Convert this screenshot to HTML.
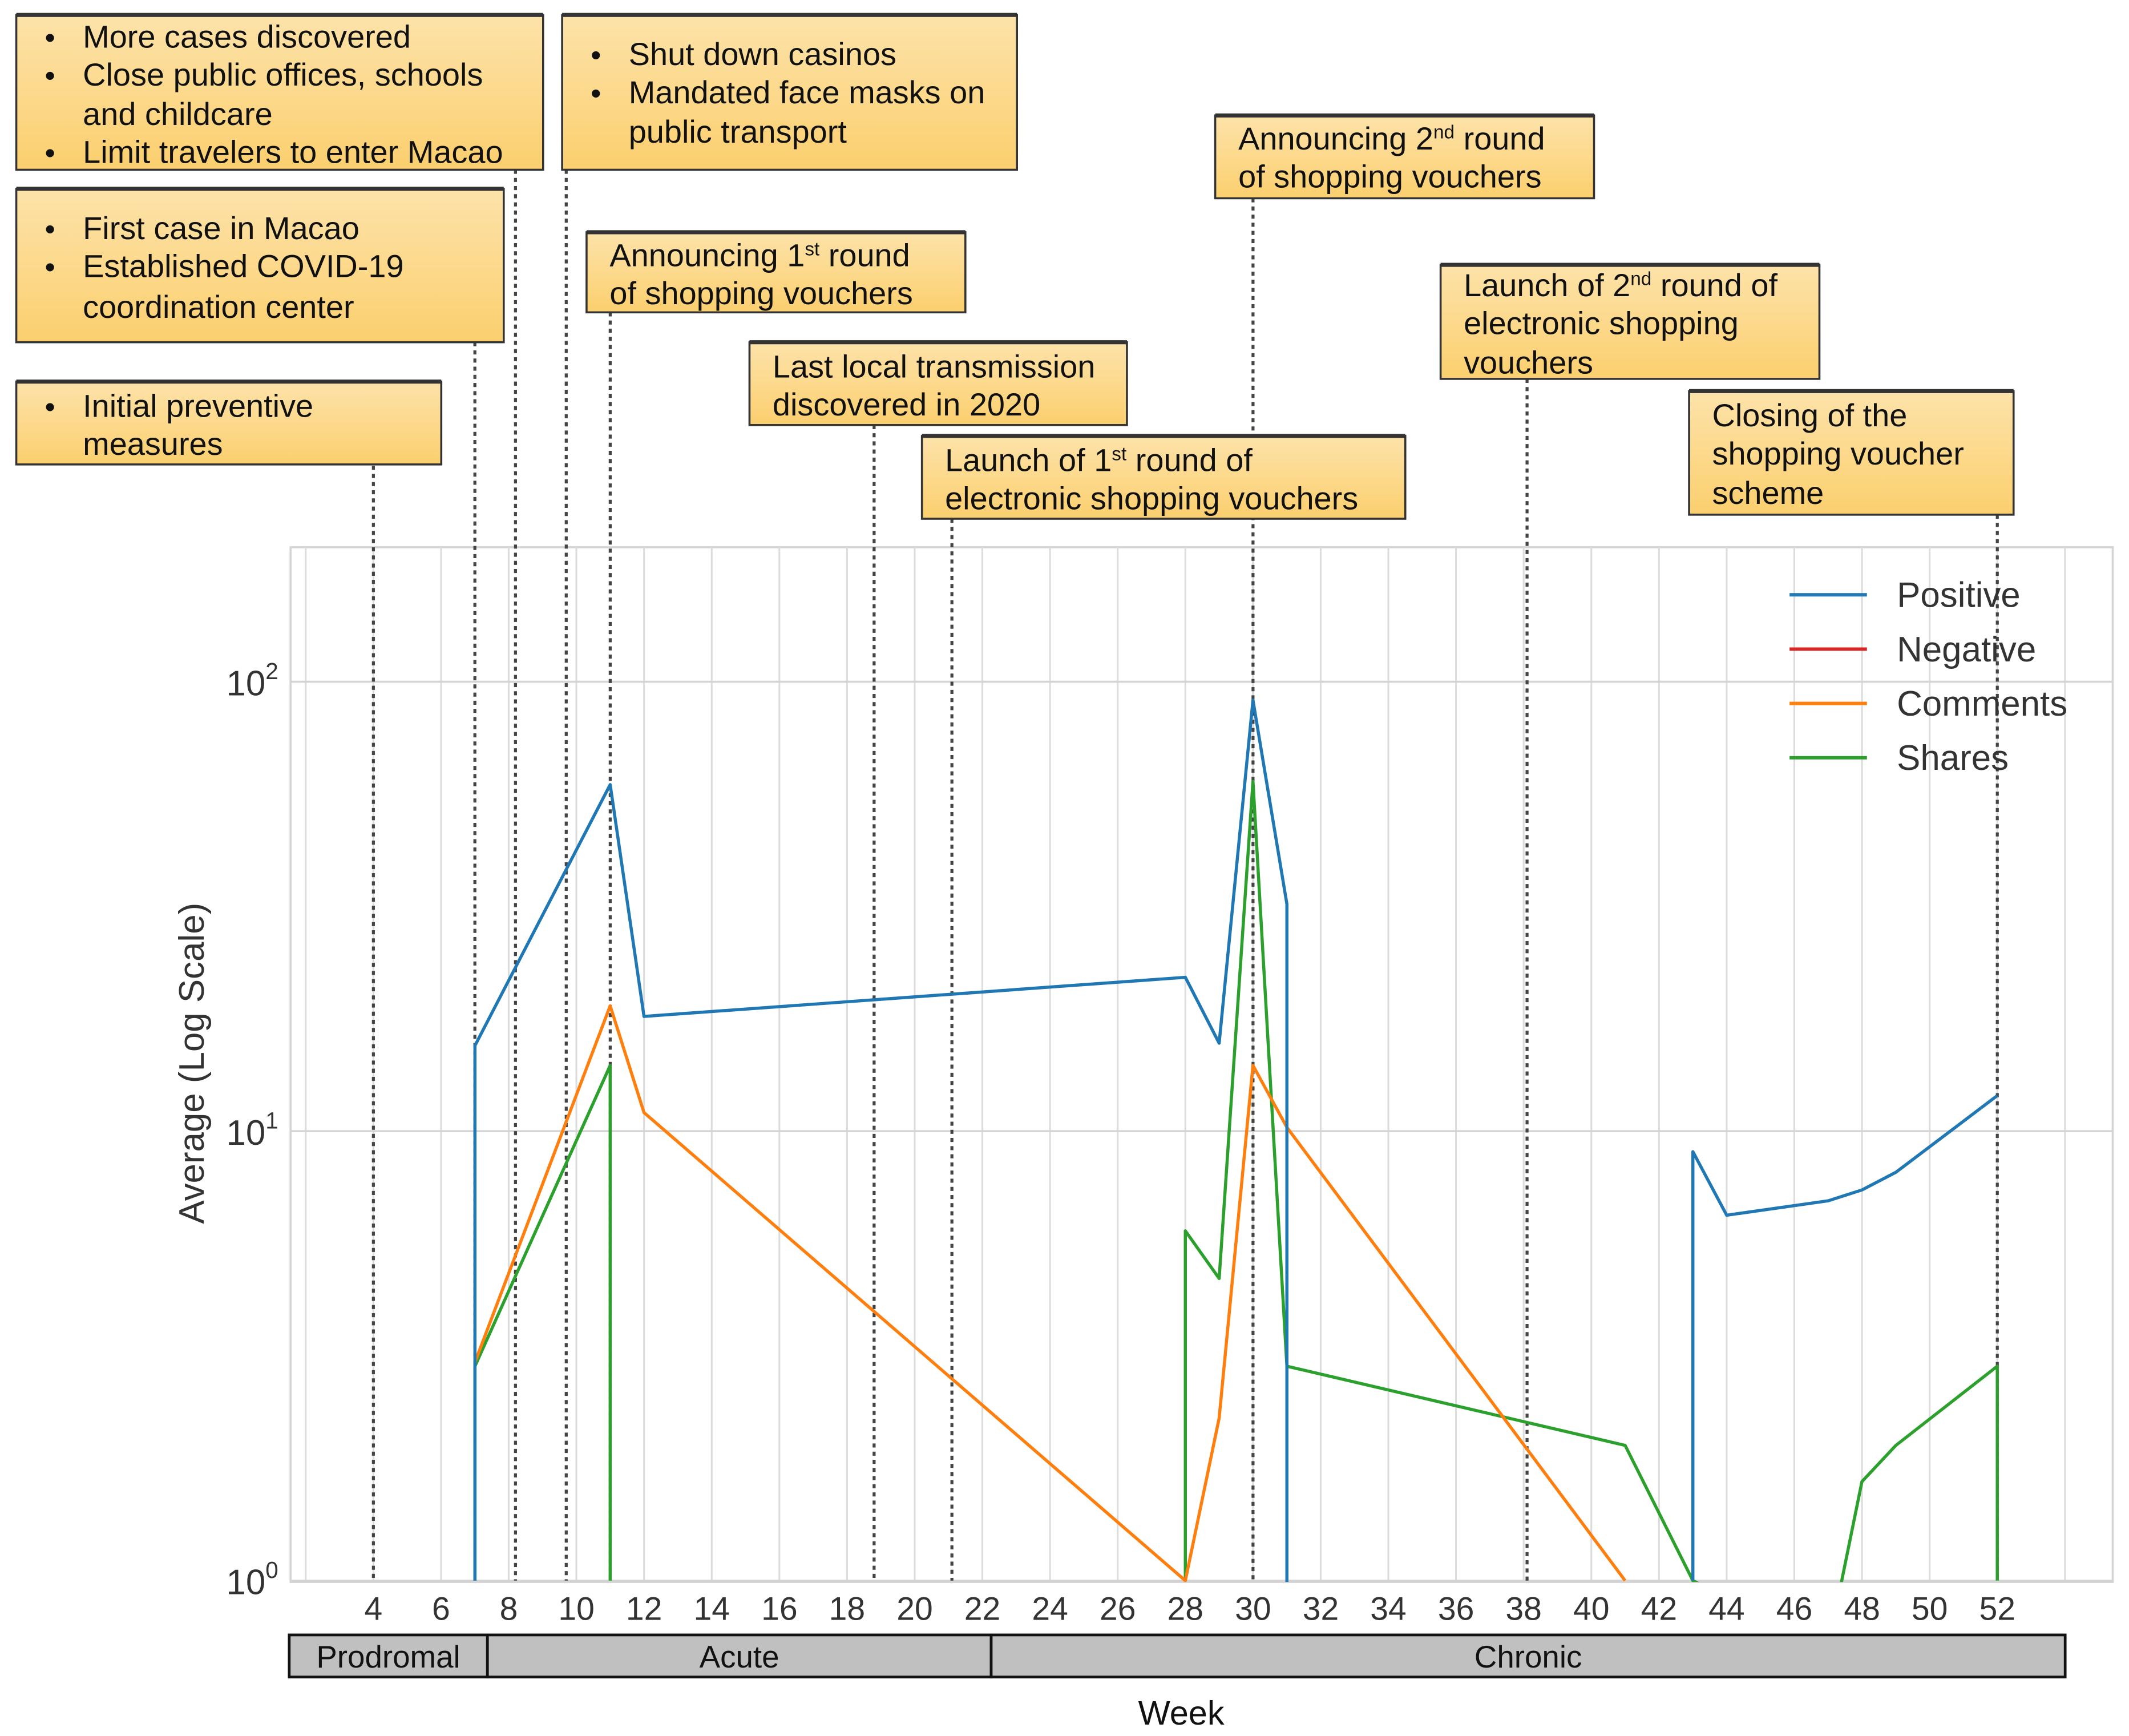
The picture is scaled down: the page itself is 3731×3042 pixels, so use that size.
<!DOCTYPE html>
<html><head><meta charset="utf-8"><style>
html,body{margin:0;padding:0;background:#fff}
svg{display:block}
text{font-family:"Liberation Sans",Arial,sans-serif}
</style></head><body>
<svg id="chart" width="3731" height="3042" viewBox="0 0 1568 1278.4" xmlns="http://www.w3.org/2000/svg">
<defs>
<linearGradient id="boxg" x1="0" y1="0" x2="0" y2="1"><stop offset="0" stop-color="#fde3aa"/><stop offset="1" stop-color="#fbcf6e"/></linearGradient>
<clipPath id="plotclip"><rect x="214" y="403" width="1342" height="762"/></clipPath>
</defs>
<g id="grid"></g>
<g id="vlines"></g>
<g id="series" clip-path="url(#plotclip)"></g>
<g id="axes"></g>
<g id="boxes"></g>
<g id="legend"></g>
</svg>
<script>
const weeksTicks = [4,6,8,10,12,14,16,18,20,22,24,26,28,30,32,34,36,38,40,42,44,46,48,50,52];
const yTickExps = [0,1,2];
const eventWeeks = [4,7,8.2,9.7,11,18.8,21.1,30,38.1,52];
const eventTops = [343,252,125,125,230,313,382,146,279,379];
const posWeeks = [7,7,11,12,28,29,30,31,31,null,43,43,44,47,48,49,52];
const posVals  = [1,15.5,59,18,22,15.7,91,32,0.3,null,1,9,6.5,7,7.4,8.1,12];
const comWeeks = [7,11,12,28,29,30,31,41];
const comVals  = [3.06,19,11,1,2.3,14,10.2,1];
const shrWeeks = [7,7,11,11,null,28,28,29,30,31,41,43,47,48,49,52,52];
const shrVals  = [1,3.0,14,1,null,1,6.0,4.7,60,3.0,2.0,1,0.71,1.66,2.0,3.0,1];
const negWeeks = [];
const negVals = [];
const legendNames = ["Positive","Negative","Comments","Shares"];
const legendColors = ["#1f77b4","#d62728","#ff7f0e","#2ca02c"];

const NS="http://www.w3.org/2000/svg";
function X(w){return 275+(w-4)*24.917;}
function Y(v){return 1164-Math.log10(v)*331;}
function mk(tag,attrs,parent){const e=document.createElementNS(NS,tag);for(const k in attrs)e.setAttribute(k,attrs[k]);parent.appendChild(e);return e;}
const grid=document.getElementById('grid');
mk('rect',{x:214,y:403,width:1342,height:762,fill:'#fff',stroke:'#d4d4d4','stroke-width':1.5},grid);
for(let w=2;w<=54;w+=2){const l=mk('line',{x1:X(w),x2:X(w),y1:403,y2:1164,stroke:'#dcdcdc','stroke-width':1.3},grid);

}
yTickExps.forEach(e=>{const l=mk('line',{x1:214,x2:1556,y1:Y(Math.pow(10,e)),y2:Y(Math.pow(10,e)),stroke:'#d4d4d4','stroke-width':1.5},grid);

});
const vl=document.getElementById('vlines');
eventWeeks.forEach((w,i)=>{const l=mk('line',{x1:X(w),x2:X(w),y1:eventTops[i],y2:1164,stroke:'#444','stroke-width':2.2,'stroke-dasharray':'3,3'},vl);

});
const sg=document.getElementById('series');
function path(ws,vs){let d='',pen=false;for(let i=0;i<ws.length;i++){if(ws[i]===null){pen=false;continue;}d+=(pen?'L':'M')+X(ws[i]).toFixed(1)+','+Y(vs[i]).toFixed(1);pen=true;}return d;}
[[shrWeeks,shrVals,legendColors[3],'shares-line'],[comWeeks,comVals,legendColors[2],'comments-line'],[posWeeks,posVals,legendColors[0],'positive-line']].forEach(s=>{
const p=mk('path',{d:path(s[0],s[1]),fill:'none',stroke:s[2],'stroke-width':2.3,'stroke-linejoin':'round'},sg);

});
const ax=document.getElementById('axes');
weeksTicks.forEach(w=>{const t=mk('text',{x:X(w),y:1193,'font-size':24,fill:'#333','text-anchor':'middle'},ax);t.textContent=w;

});
yTickExps.forEach(e=>{const t=mk('text',{x:205,y:Y(Math.pow(10,e))+10,'font-size':26,fill:'#333','text-anchor':'end'},ax);
t.innerHTML='10<tspan dy="-12" font-size="17">'+e+'</tspan>';

});
const yt=mk('text',{x:0,y:0,'font-size':26,fill:'#333','text-anchor':'middle',transform:'translate(150,783) rotate(-90)'},ax);yt.textContent='Average (Log Scale)';


const phases=[["Prodromal",213,359],["Acute",359,730],["Chronic",730,1521]];
phases.forEach(p=>{const r=mk('rect',{x:p[1],y:1204,width:p[2]-p[1],height:31,fill:'#c0c0c0',stroke:'#111','stroke-width':2},ax);


const t=mk('text',{x:(p[1]+p[2])/2,y:1228,'font-size':23,fill:'#111','text-anchor':'middle'},ax);t.textContent=p[0];});
const xt=mk('text',{x:870,y:1270,'font-size':25,fill:'#111','text-anchor':'middle'},ax);xt.textContent='Week';


const boxes=[
 [12,11,388,114,61,true,[["More cases discovered",27],["Close public offices, schools",55],["and childcare",84,1],["Limit travelers to enter Macao",112]]],
 [414,11,335,114,463,true,[["Shut down casinos",40],["Mandated face masks on",68],["public transport",97,1]]],
 [12,139,359,113,61,true,[["First case in Macao",168],["Established COVID-19",196],["coordination center",226,1]]],
 [12,281,313,61,61,true,[["Initial preventive",299],["measures",327,1]]],
 [432,171,279,59,449,false,[["Announcing 1<tspan dy='-8' font-size='14'>st</tspan><tspan dy='8'> round</tspan>",188],["of shopping vouchers",216]]],
 [552,252,278,61,569,false,[["Last local transmission",270],["discovered in 2020",298]]],
 [679,321,356,61,696,false,[["Launch of 1<tspan dy='-8' font-size='14'>st</tspan><tspan dy='8'> round of</tspan>",339],["electronic shopping vouchers",367]]],
 [895,85,279,61,912,false,[["Announcing 2<tspan dy='-8' font-size='14'>nd</tspan><tspan dy='8'> round</tspan>",102],["of shopping vouchers",130]]],
 [1061,195,279,84,1078,false,[["Launch of 2<tspan dy='-8' font-size='14'>nd</tspan><tspan dy='8'> round of</tspan>",210],["electronic shopping",238],["vouchers",267]]],
 [1244,288,239,91,1261,false,[["Closing of the",306],["shopping voucher",334],["scheme",363]]]
];
const bg=document.getElementById('boxes');
boxes.forEach(b=>{const g=mk('g',{},bg);


mk('rect',{x:b[0],y:b[1],width:b[2],height:b[3],fill:'url(#boxg)',stroke:'#333','stroke-width':1.5},g);
mk('line',{x1:b[0],x2:b[0]+b[2],y1:b[1],y2:b[1],stroke:'#333','stroke-width':3},g);
b[6].forEach(l=>{const t=mk('text',{x:b[4],y:l[1]+8,'font-size':23.5,fill:'#111'},g);t.innerHTML=l[0];
if(b[5]&&!l[2]){const d=mk('text',{x:b[4]-28,y:l[1]+8,'font-size':22,fill:'#111'},g);d.textContent='•';}});});
const lg=document.getElementById('legend');
legendNames.forEach((n,i)=>{const y=438+40*i;const g=mk('g',{},lg);


mk('line',{x1:1318,x2:1375,y1:y,y2:y,stroke:legendColors[i],'stroke-width':2.5},g);
const t=mk('text',{x:1397,y:y+9,'font-size':26,fill:'#333'},g);t.textContent=n;});
</script>
</body></html>
